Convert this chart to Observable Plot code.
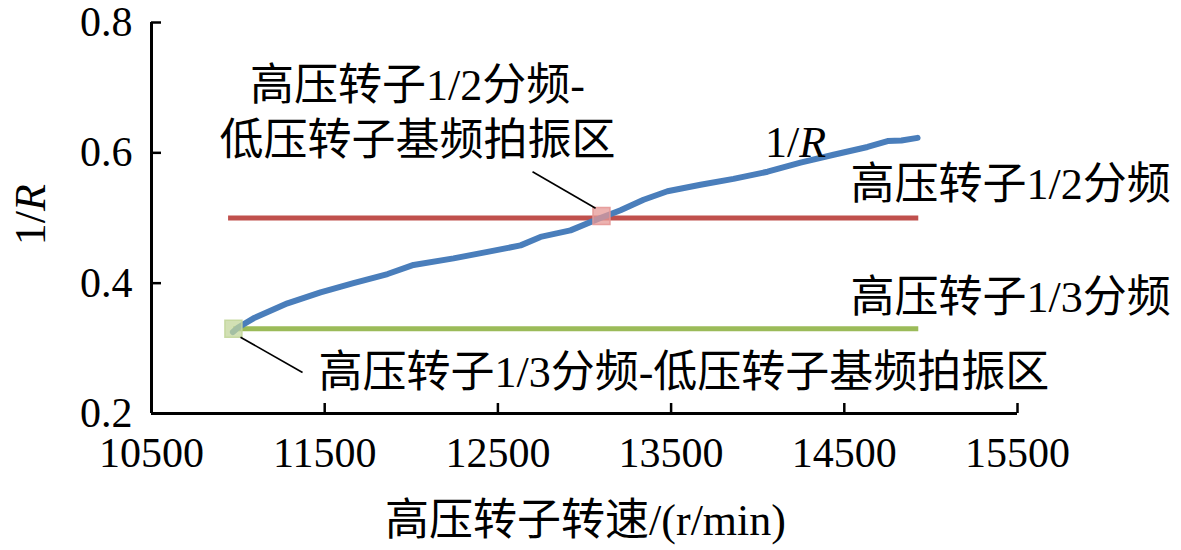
<!DOCTYPE html>
<html>
<head>
<meta charset="utf-8">
<script src="https://cdn.jsdelivr.net/npm/d3@7"></script>
<script src="https://cdn.jsdelivr.net/npm/@observablehq/plot@0.6"></script>
<style>
html,body{margin:0;padding:0;background:#fff;}
</style>
</head>
<body>
<div id="chart"></div>
<script>
// ---- data ----
const speed = [10970, 11000, 11089, 11285, 11476, 11666, 11863, 12013, 12244, 12440, 12631, 12746, 12919, 13092, 13208, 13341, 13479, 13670, 13860, 14057, 14247, 14438, 14634, 14750, 14830, 14923];
const ratio = [0.325, 0.332, 0.346, 0.369, 0.386, 0.400, 0.414, 0.428, 0.438, 0.448, 0.458, 0.471, 0.481, 0.500, 0.512, 0.528, 0.541, 0.551, 0.560, 0.571, 0.585, 0.597, 0.609, 0.618, 0.619, 0.623];
const halfLine = {x1: 10945, x2: 14930, y: 0.5};
const thirdLine = {x1: 10975, x2: 14930, y: 0.33};
const beatPoints = [
  {x: 13098, y: 0.503, kind: "half"},
  {x: 10973, y: 0.33, kind: "third"}
];
const xTicks = [10500, 11500, 12500, 13500, 14500, 15500];
const yTicks = [0.2, 0.4, 0.6, 0.8];
const centeredLabels = [
  {x: 12036, y: 0.666, text: "高压转子1/2分频-\n低压转子基频拍振区"},
  {x: 14218, y: 0.620, text: "1/R"}
];
const startLabels = [
  {x: 14536, y: 0.551, text: "高压转子1/2分频"},
  {x: 14536, y: 0.378, text: "高压转子1/3分频"},
  {x: 11464, y: 0.263, text: "高压转子1/3分频-低压转子基频拍振区"}
];
const leaders = [
  {x1: 12700, y1: 0.571, x2: 13064, y2: 0.515},
  {x1: 11014, y1: 0.317, x2: 11372, y2: 0.263}
];
const xTitle = "高压转子转速/(r/min)";
const yTitle = "1/R";
const curve = speed.map((s, i) => ({s, r: ratio[i]}));

const font = "'Liberation Serif', 'Noto Sans CJK SC', serif";
const fs = 44;
const tfs = 42;

const chart = Plot.plot({
  width: 1181,
  height: 550,
  marginLeft: 151,
  marginRight: 164,
  marginTop: 22,
  marginBottom: 137,
  style: {fontFamily: font, fontSize: fs + "px", color: "#000", background: "#fff", overflow: "visible"},
  x: {domain: [10500, 15500]},
  y: {domain: [0.2, 0.8]},
  marks: [
    Plot.axisX({ticks: xTicks, tickSize: -10, tickPadding: 34, tickFormat: d => String(d), label: null, fontSize: tfs, strokeWidth: 2.5}),
    Plot.axisY({ticks: yTicks, tickSize: -10, tickPadding: 29, tickFormat: d => d.toFixed(1), label: null, fontSize: tfs, strokeWidth: 2.5}),
    Plot.ruleX([10500], {stroke: "#000", strokeWidth: 3}),
    Plot.ruleY([0.2], {stroke: "#000", strokeWidth: 3}),
    Plot.ruleY([halfLine], {x1: "x1", x2: "x2", y: "y", stroke: "#c0504d", strokeWidth: 5}),
    Plot.ruleY([thirdLine], {x1: "x1", x2: "x2", y: "y", stroke: "#9bbb59", strokeWidth: 5}),
    Plot.line(curve, {x: "s", y: "r", stroke: "#4a7ebb", strokeWidth: 6}),
    Plot.dot(beatPoints, {x: "x", y: "y", symbol: "square", r: 9.6,
      fill: d => d.kind === "half" ? "#e69896" : "#c3d69b", fillOpacity: 0.75,
      stroke: d => d.kind === "half" ? "#e69896" : "#c3d69b", strokeOpacity: 0.9}),
    Plot.link(leaders, {x1: "x1", y1: "y1", x2: "x2", y2: "y2", stroke: "#000", strokeWidth: 1.6}),
    Plot.text(centeredLabels, {x: "x", y: "y", text: "text", textAnchor: "middle", fontSize: fs, lineHeight: 1.25, fill: "#000"}),
    Plot.text(startLabels, {x: "x", y: "y", text: "text", textAnchor: "start", fontSize: fs, fill: "#000"}),
    Plot.text([xTitle], {x: 13006, y: 0.0354, text: d => d, fontSize: fs, fill: "#000"}),
    Plot.text([yTitle], {x: 9801, y: 0.505, text: d => d, rotate: -90, fontSize: fs, fill: "#000"})
  ]
});

// italicise R in "1/R"
d3.select(chart).selectAll("text").each(function() {
  const t = d3.select(this);
  if (t.text() === "1/R" && this.childElementCount === 0) {
    t.text(null);
    t.append("tspan").text("1/");
    t.append("tspan").attr("font-style", "italic").text("R");
  }
});

document.getElementById("chart").appendChild(chart);
</script>
</body>
</html>
